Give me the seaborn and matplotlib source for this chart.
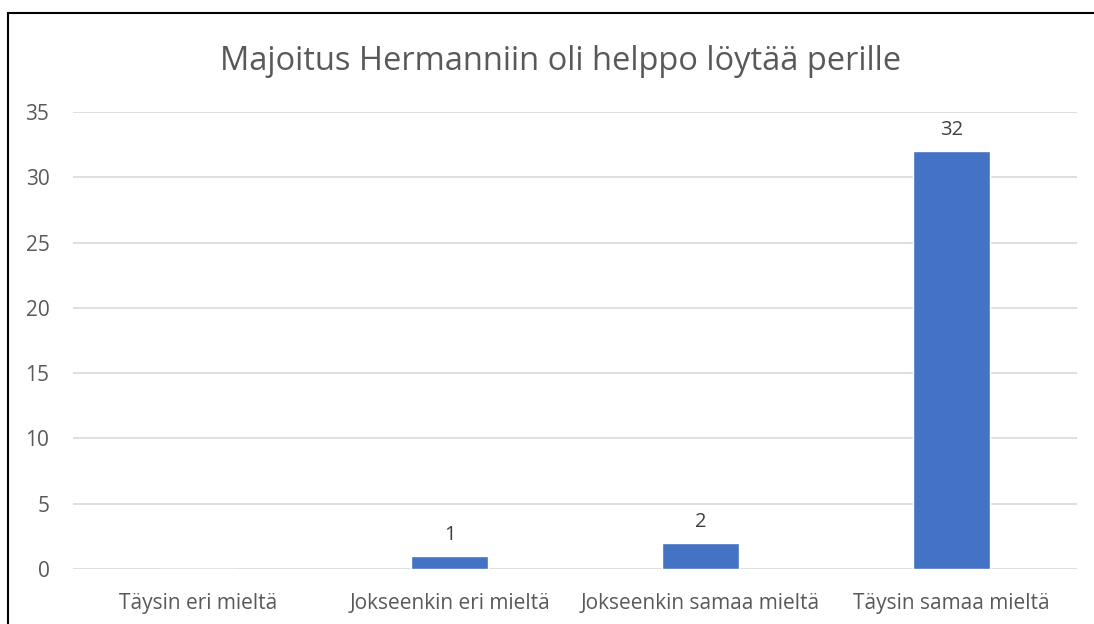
import matplotlib
matplotlib.use("Agg")
import matplotlib.pyplot as plt
import pandas as pd
import seaborn as sns
from matplotlib.patches import Rectangle

TITLE = "Majoitus Hermanniin oli helppo löytää perille"
CATEGORIES = ["Täysin eri mieltä", "Jokseenkin eri mieltä",
              "Jokseenkin samaa mieltä", "Täysin samaa mieltä"]
VALUES = [0, 1, 2, 32]
Y_TICKS = [0, 5, 10, 15, 20, 25, 30, 35]

BAR_COLOR = "#4472C4"
TEXT_COLOR = "#595959"
GRID_COLOR = "#D9D9D9"


def main():
    sns.set_style("white")
    plt.rcParams["font.family"] = ["Open Sans", "DejaVu Sans"]

    df = pd.DataFrame({"kategoria": CATEGORIES, "lkm": VALUES})

    fig = plt.figure(figsize=(10.94, 6.24), dpi=100)
    ax = fig.add_axes([73 / 1094, 1 - 569 / 624, (1077 - 73) / 1094, (569 - 112) / 624])

    sns.barplot(data=df, x="kategoria", y="lkm", color=BAR_COLOR,
                width=0.31, saturation=1, ax=ax, zorder=3)

    # arvot palkkien päälle (ei nollalle)
    for patch, v in zip(ax.patches, VALUES):
        if v == 0:
            continue
        ax.annotate(str(v), (patch.get_x() + patch.get_width() / 2, v),
                    xytext=(0, 8), textcoords="offset points",
                    ha="center", va="bottom", fontsize=14.5, color="#404040")

    ax.set_ylim(0, 35)
    ax.set_yticks(Y_TICKS)
    ax.yaxis.grid(True, color=GRID_COLOR, linewidth=1.2, zorder=0)
    ax.set_axisbelow(True)
    for s in ax.spines.values():
        s.set_visible(False)
    ax.tick_params(axis="both", length=0, labelsize=15, labelcolor=TEXT_COLOR)
    ax.tick_params(axis="x", pad=17)
    ax.tick_params(axis="y", pad=17)
    ax.set_xlabel("")
    ax.set_ylabel("")

    fig.text(0.512, 1 - 62 / 624, TITLE, ha="center", va="center",
             fontsize=23.5, color=TEXT_COLOR)

    # kaavion reunaviiva
    fig.patches.append(Rectangle((8 / 1094, -0.2), 1.2, 1 - 13 / 624 + 0.2,
                                 transform=fig.transFigure, fill=False,
                                 edgecolor="black", linewidth=1.5))

    fig.savefig("out.png", dpi=100)
    plt.close(fig)


if __name__ == "__main__":
    main()
